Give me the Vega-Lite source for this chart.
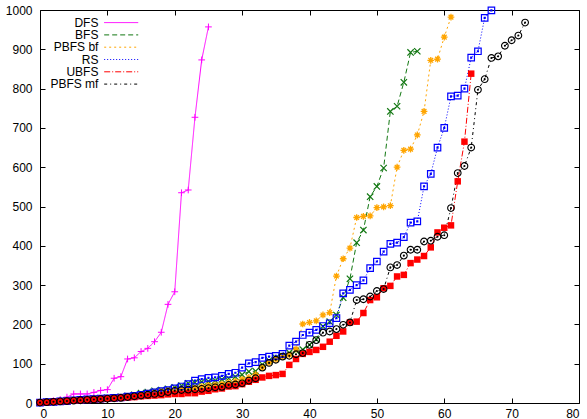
{
"$schema": "https://vega.github.io/schema/vega-lite/v6.json",
"width": 539, "height": 393,
"autosize": {"type": "none"},
"padding": {"left": 40, "top": 10, "right": 8, "bottom": 16},
"config": {
  "view": {"stroke": "#000", "strokeWidth": 1},
  "font": "Liberation Sans",
  "axis": {"grid": false, "domain": false, "tickColor": "#000", "tickSize": -5, "tickWidth": 1, "labelColor": "#000", "labelFontSize": 12, "labelFont": "Liberation Sans", "title": null, "format": "d"}
},
"datasets": {"d": [
{"m":"DFS","n":0,"t":2},{"m":"DFS","n":1,"t":4},{"m":"DFS","n":2,"t":6},{"m":"DFS","n":3,"t":9},{"m":"DFS","n":4,"t":15},{"m":"DFS","n":5,"t":23},{"m":"DFS","n":6,"t":23},{"m":"DFS","n":7,"t":23},{"m":"DFS","n":8,"t":27},{"m":"DFS","n":9,"t":32},{"m":"DFS","n":10,"t":34},{"m":"DFS","n":11,"t":63},{"m":"DFS","n":12,"t":67},{"m":"DFS","n":13,"t":112},{"m":"DFS","n":14,"t":115},{"m":"DFS","n":15,"t":131},{"m":"DFS","n":16,"t":139},{"m":"DFS","n":17,"t":156},{"m":"DFS","n":18,"t":180},{"m":"DFS","n":19,"t":251},{"m":"DFS","n":20,"t":283},{"m":"DFS","n":21,"t":535},{"m":"DFS","n":22,"t":542},{"m":"DFS","n":23,"t":727},{"m":"DFS","n":24,"t":873},{"m":"DFS","n":25,"t":957},
{"m":"BFS","n":0,"t":1},{"m":"BFS","n":1,"t":2},{"m":"BFS","n":2,"t":3},{"m":"BFS","n":3,"t":4},{"m":"BFS","n":4,"t":6},{"m":"BFS","n":5,"t":7},{"m":"BFS","n":6,"t":9},{"m":"BFS","n":7,"t":10},{"m":"BFS","n":8,"t":11},{"m":"BFS","n":9,"t":12},{"m":"BFS","n":10,"t":13},{"m":"BFS","n":11,"t":14},{"m":"BFS","n":12,"t":16},{"m":"BFS","n":13,"t":18},{"m":"BFS","n":14,"t":21},{"m":"BFS","n":15,"t":25},{"m":"BFS","n":16,"t":28},{"m":"BFS","n":17,"t":31},{"m":"BFS","n":18,"t":33},{"m":"BFS","n":19,"t":36},{"m":"BFS","n":20,"t":40},{"m":"BFS","n":21,"t":44},{"m":"BFS","n":22,"t":50},{"m":"BFS","n":23,"t":52},{"m":"BFS","n":24,"t":54},{"m":"BFS","n":25,"t":55},{"m":"BFS","n":26,"t":57},{"m":"BFS","n":27,"t":60},{"m":"BFS","n":28,"t":63},{"m":"BFS","n":29,"t":67},{"m":"BFS","n":30,"t":72},{"m":"BFS","n":31,"t":80},{"m":"BFS","n":32,"t":81},{"m":"BFS","n":33,"t":98},{"m":"BFS","n":34,"t":108},{"m":"BFS","n":35,"t":115},{"m":"BFS","n":36,"t":120},{"m":"BFS","n":37,"t":128},{"m":"BFS","n":38,"t":133},{"m":"BFS","n":39,"t":136},{"m":"BFS","n":40,"t":148},{"m":"BFS","n":41,"t":162},{"m":"BFS","n":42,"t":195},{"m":"BFS","n":43,"t":207},{"m":"BFS","n":44,"t":224},{"m":"BFS","n":45,"t":268},{"m":"BFS","n":46,"t":316},{"m":"BFS","n":47,"t":408},{"m":"BFS","n":48,"t":440},{"m":"BFS","n":49,"t":525},{"m":"BFS","n":50,"t":551},{"m":"BFS","n":51,"t":598},{"m":"BFS","n":52,"t":742},{"m":"BFS","n":53,"t":755},{"m":"BFS","n":54,"t":816},{"m":"BFS","n":55,"t":892},{"m":"BFS","n":56,"t":895},
{"m":"PBFS bf","n":0,"t":1},{"m":"PBFS bf","n":1,"t":2},{"m":"PBFS bf","n":2,"t":3},{"m":"PBFS bf","n":3,"t":4},{"m":"PBFS bf","n":4,"t":5},{"m":"PBFS bf","n":5,"t":6},{"m":"PBFS bf","n":6,"t":8},{"m":"PBFS bf","n":7,"t":9},{"m":"PBFS bf","n":8,"t":10},{"m":"PBFS bf","n":9,"t":11},{"m":"PBFS bf","n":10,"t":12},{"m":"PBFS bf","n":11,"t":13},{"m":"PBFS bf","n":12,"t":15},{"m":"PBFS bf","n":13,"t":17},{"m":"PBFS bf","n":14,"t":19},{"m":"PBFS bf","n":15,"t":22},{"m":"PBFS bf","n":16,"t":25},{"m":"PBFS bf","n":17,"t":28},{"m":"PBFS bf","n":18,"t":30},{"m":"PBFS bf","n":19,"t":32},{"m":"PBFS bf","n":20,"t":33},{"m":"PBFS bf","n":21,"t":35},{"m":"PBFS bf","n":22,"t":36},{"m":"PBFS bf","n":23,"t":38},{"m":"PBFS bf","n":24,"t":42},{"m":"PBFS bf","n":25,"t":45},{"m":"PBFS bf","n":26,"t":46},{"m":"PBFS bf","n":27,"t":48},{"m":"PBFS bf","n":28,"t":52},{"m":"PBFS bf","n":29,"t":55},{"m":"PBFS bf","n":30,"t":60},{"m":"PBFS bf","n":31,"t":65},{"m":"PBFS bf","n":32,"t":72},{"m":"PBFS bf","n":33,"t":90},{"m":"PBFS bf","n":34,"t":103},{"m":"PBFS bf","n":35,"t":111},{"m":"PBFS bf","n":36,"t":118},{"m":"PBFS bf","n":37,"t":122},{"m":"PBFS bf","n":38,"t":137},{"m":"PBFS bf","n":39,"t":201},{"m":"PBFS bf","n":40,"t":205},{"m":"PBFS bf","n":41,"t":209},{"m":"PBFS bf","n":42,"t":224},{"m":"PBFS bf","n":43,"t":230},{"m":"PBFS bf","n":44,"t":323},{"m":"PBFS bf","n":45,"t":367},{"m":"PBFS bf","n":46,"t":394},{"m":"PBFS bf","n":47,"t":472},{"m":"PBFS bf","n":48,"t":475},{"m":"PBFS bf","n":49,"t":476},{"m":"PBFS bf","n":50,"t":497},{"m":"PBFS bf","n":51,"t":499},{"m":"PBFS bf","n":52,"t":502},{"m":"PBFS bf","n":53,"t":600},{"m":"PBFS bf","n":54,"t":643},{"m":"PBFS bf","n":55,"t":646},{"m":"PBFS bf","n":56,"t":682},{"m":"PBFS bf","n":57,"t":742},{"m":"PBFS bf","n":58,"t":872},{"m":"PBFS bf","n":59,"t":875},{"m":"PBFS bf","n":60,"t":931},{"m":"PBFS bf","n":61,"t":982},
{"m":"RS","n":0,"t":1},{"m":"RS","n":1,"t":2},{"m":"RS","n":2,"t":3},{"m":"RS","n":3,"t":4},{"m":"RS","n":4,"t":5},{"m":"RS","n":5,"t":7},{"m":"RS","n":6,"t":8},{"m":"RS","n":7,"t":9},{"m":"RS","n":8,"t":10},{"m":"RS","n":9,"t":11},{"m":"RS","n":10,"t":12},{"m":"RS","n":11,"t":13},{"m":"RS","n":12,"t":14},{"m":"RS","n":13,"t":16},{"m":"RS","n":14,"t":18},{"m":"RS","n":15,"t":21},{"m":"RS","n":16,"t":24},{"m":"RS","n":17,"t":27},{"m":"RS","n":18,"t":30},{"m":"RS","n":19,"t":33},{"m":"RS","n":20,"t":37},{"m":"RS","n":21,"t":42},{"m":"RS","n":22,"t":48},{"m":"RS","n":23,"t":57},{"m":"RS","n":24,"t":61},{"m":"RS","n":25,"t":64},{"m":"RS","n":26,"t":65},{"m":"RS","n":27,"t":69},{"m":"RS","n":28,"t":74},{"m":"RS","n":29,"t":77},{"m":"RS","n":30,"t":90},{"m":"RS","n":31,"t":101},{"m":"RS","n":32,"t":104},{"m":"RS","n":33,"t":115},{"m":"RS","n":34,"t":118},{"m":"RS","n":35,"t":120},{"m":"RS","n":36,"t":125},{"m":"RS","n":37,"t":146},{"m":"RS","n":38,"t":156},{"m":"RS","n":39,"t":173},{"m":"RS","n":40,"t":179},{"m":"RS","n":41,"t":186},{"m":"RS","n":42,"t":196},{"m":"RS","n":43,"t":203},{"m":"RS","n":44,"t":216},{"m":"RS","n":45,"t":279},{"m":"RS","n":46,"t":288},{"m":"RS","n":47,"t":300},{"m":"RS","n":48,"t":312},{"m":"RS","n":49,"t":343},{"m":"RS","n":50,"t":360},{"m":"RS","n":51,"t":385},{"m":"RS","n":52,"t":405},{"m":"RS","n":53,"t":408},{"m":"RS","n":54,"t":422},{"m":"RS","n":55,"t":459},{"m":"RS","n":56,"t":462},{"m":"RS","n":57,"t":551},{"m":"RS","n":58,"t":583},{"m":"RS","n":59,"t":650},{"m":"RS","n":60,"t":700},{"m":"RS","n":61,"t":780},{"m":"RS","n":62,"t":782},{"m":"RS","n":63,"t":800},{"m":"RS","n":64,"t":879},{"m":"RS","n":65,"t":895},{"m":"RS","n":66,"t":980},{"m":"RS","n":67,"t":999},
{"m":"UBFS","n":0,"t":1},{"m":"UBFS","n":1,"t":2},{"m":"UBFS","n":2,"t":3},{"m":"UBFS","n":3,"t":4},{"m":"UBFS","n":4,"t":5},{"m":"UBFS","n":5,"t":6},{"m":"UBFS","n":6,"t":7},{"m":"UBFS","n":7,"t":8},{"m":"UBFS","n":8,"t":9},{"m":"UBFS","n":9,"t":10},{"m":"UBFS","n":10,"t":11},{"m":"UBFS","n":11,"t":12},{"m":"UBFS","n":12,"t":13},{"m":"UBFS","n":13,"t":14},{"m":"UBFS","n":14,"t":15},{"m":"UBFS","n":15,"t":17},{"m":"UBFS","n":16,"t":18},{"m":"UBFS","n":17,"t":19},{"m":"UBFS","n":18,"t":20},{"m":"UBFS","n":19,"t":22},{"m":"UBFS","n":20,"t":23},{"m":"UBFS","n":21,"t":23},{"m":"UBFS","n":22,"t":25},{"m":"UBFS","n":23,"t":25},{"m":"UBFS","n":24,"t":29},{"m":"UBFS","n":25,"t":31},{"m":"UBFS","n":26,"t":35},{"m":"UBFS","n":27,"t":37},{"m":"UBFS","n":28,"t":42},{"m":"UBFS","n":29,"t":43},{"m":"UBFS","n":30,"t":48},{"m":"UBFS","n":31,"t":54},{"m":"UBFS","n":32,"t":59},{"m":"UBFS","n":33,"t":65},{"m":"UBFS","n":34,"t":69},{"m":"UBFS","n":35,"t":71},{"m":"UBFS","n":36,"t":74},{"m":"UBFS","n":37,"t":97},{"m":"UBFS","n":38,"t":112},{"m":"UBFS","n":39,"t":125},{"m":"UBFS","n":40,"t":130},{"m":"UBFS","n":41,"t":135},{"m":"UBFS","n":42,"t":143},{"m":"UBFS","n":43,"t":156},{"m":"UBFS","n":44,"t":171},{"m":"UBFS","n":45,"t":182},{"m":"UBFS","n":46,"t":205},{"m":"UBFS","n":47,"t":207},{"m":"UBFS","n":48,"t":229},{"m":"UBFS","n":49,"t":262},{"m":"UBFS","n":50,"t":269},{"m":"UBFS","n":51,"t":292},{"m":"UBFS","n":52,"t":298},{"m":"UBFS","n":53,"t":322},{"m":"UBFS","n":54,"t":326},{"m":"UBFS","n":55,"t":356},{"m":"UBFS","n":56,"t":365},{"m":"UBFS","n":57,"t":374},{"m":"UBFS","n":58,"t":396},{"m":"UBFS","n":59,"t":434},{"m":"UBFS","n":60,"t":446},{"m":"UBFS","n":61,"t":452},{"m":"UBFS","n":62,"t":564},{"m":"UBFS","n":63,"t":665},{"m":"UBFS","n":64,"t":838},
{"m":"PBFS mf","n":0,"t":1},{"m":"PBFS mf","n":1,"t":2},{"m":"PBFS mf","n":2,"t":3},{"m":"PBFS mf","n":3,"t":4},{"m":"PBFS mf","n":4,"t":5},{"m":"PBFS mf","n":5,"t":6},{"m":"PBFS mf","n":6,"t":7},{"m":"PBFS mf","n":7,"t":8},{"m":"PBFS mf","n":8,"t":9},{"m":"PBFS mf","n":9,"t":10},{"m":"PBFS mf","n":10,"t":11},{"m":"PBFS mf","n":11,"t":12},{"m":"PBFS mf","n":12,"t":13},{"m":"PBFS mf","n":13,"t":15},{"m":"PBFS mf","n":14,"t":17},{"m":"PBFS mf","n":15,"t":19},{"m":"PBFS mf","n":16,"t":21},{"m":"PBFS mf","n":17,"t":23},{"m":"PBFS mf","n":18,"t":25},{"m":"PBFS mf","n":19,"t":28},{"m":"PBFS mf","n":20,"t":31},{"m":"PBFS mf","n":21,"t":33},{"m":"PBFS mf","n":22,"t":34},{"m":"PBFS mf","n":23,"t":35},{"m":"PBFS mf","n":24,"t":36},{"m":"PBFS mf","n":25,"t":38},{"m":"PBFS mf","n":26,"t":40},{"m":"PBFS mf","n":27,"t":41},{"m":"PBFS mf","n":28,"t":46},{"m":"PBFS mf","n":29,"t":47},{"m":"PBFS mf","n":30,"t":50},{"m":"PBFS mf","n":31,"t":57},{"m":"PBFS mf","n":32,"t":63},{"m":"PBFS mf","n":33,"t":90},{"m":"PBFS mf","n":34,"t":102},{"m":"PBFS mf","n":35,"t":110},{"m":"PBFS mf","n":36,"t":118},{"m":"PBFS mf","n":37,"t":120},{"m":"PBFS mf","n":38,"t":124},{"m":"PBFS mf","n":39,"t":127},{"m":"PBFS mf","n":40,"t":148},{"m":"PBFS mf","n":41,"t":160},{"m":"PBFS mf","n":42,"t":179},{"m":"PBFS mf","n":43,"t":182},{"m":"PBFS mf","n":44,"t":188},{"m":"PBFS mf","n":45,"t":199},{"m":"PBFS mf","n":46,"t":205},{"m":"PBFS mf","n":47,"t":262},{"m":"PBFS mf","n":48,"t":264},{"m":"PBFS mf","n":49,"t":271},{"m":"PBFS mf","n":50,"t":285},{"m":"PBFS mf","n":51,"t":290},{"m":"PBFS mf","n":52,"t":345},{"m":"PBFS mf","n":53,"t":351},{"m":"PBFS mf","n":54,"t":375},{"m":"PBFS mf","n":55,"t":390},{"m":"PBFS mf","n":56,"t":390},{"m":"PBFS mf","n":57,"t":411},{"m":"PBFS mf","n":58,"t":413},{"m":"PBFS mf","n":59,"t":423},{"m":"PBFS mf","n":60,"t":427},{"m":"PBFS mf","n":61,"t":496},{"m":"PBFS mf","n":62,"t":585},{"m":"PBFS mf","n":63,"t":603},{"m":"PBFS mf","n":64,"t":650},{"m":"PBFS mf","n":65,"t":797},{"m":"PBFS mf","n":66,"t":824},{"m":"PBFS mf","n":67,"t":878},{"m":"PBFS mf","n":68,"t":882},{"m":"PBFS mf","n":69,"t":909},{"m":"PBFS mf","n":70,"t":923},{"m":"PBFS mf","n":71,"t":935},{"m":"PBFS mf","n":72,"t":968}
]},
"data": {"name": "d"},
"layer": [
 {"mark": {"type": "line", "strokeWidth": 1, "clip": true},
  "encoding": {
   "x": {"field": "n", "type": "quantitative", "scale": {"domain": [0, 80], "nice": false}, "axis": {"orient": "bottom", "values": [0,10,20,30,40,50,60,70,80], "labelPadding": 10}},
   "y": {"field": "t", "type": "quantitative", "scale": {"domain": [0, 1000], "nice": false}, "axis": {"orient": "left", "values": [0,100,200,300,400,500,600,700,800,900,1000], "labelPadding": 13}},
   "color": {"field": "m", "type": "nominal", "scale": {"domain": ["DFS","BFS","PBFS bf","RS","UBFS","PBFS mf"], "range": ["#ff00ff","#117711","#ffa500","#0000ff","#ff0000","#000000"]},
     "legend": {"orient": "none", "legendX": 75.2, "legendY": 6.6, "title": null, "symbolType": "M-3.55,0H3.55", "symbolSize": 92, "symbolStrokeWidth": 1, "labelAlign": "right", "labelOffset": -28.8, "labelFontSize": 12, "labelFont": "Liberation Sans", "labelColor": "#000", "rowPadding": 0.3, "padding": 0}},
   "strokeDash": {"field": "m", "type": "nominal", "legend": null, "scale": {"domain": ["DFS","BFS","PBFS bf","RS","UBFS","PBFS mf"], "range": [[1,0],[5,3],[2,3],[1,2],[6,2,1,2],[3,3,1,3]]}},
   "order": {"field": "n", "type": "quantitative"}
  }},
 {"transform": [{"filter": "datum.m === 'DFS'"}],
  "mark": {"type": "point", "shape": "M-1,0H1M0,-1V1", "filled": false, "size": 45, "strokeWidth": 1, "color": "#ff00ff", "opacity": 1},
  "encoding": {"x": {"field": "n", "type": "quantitative", "axis": null}, "y": {"field": "t", "type": "quantitative", "axis": null}}},
 {"transform": [{"filter": "datum.m === 'BFS'"}],
  "mark": {"type": "point", "shape": "M-1,-1L1,1M1,-1L-1,1", "filled": false, "size": 40, "strokeWidth": 1.2, "color": "#117711", "opacity": 1},
  "encoding": {"x": {"field": "n", "type": "quantitative", "axis": null}, "y": {"field": "t", "type": "quantitative", "axis": null}}},
 {"transform": [{"filter": "datum.m === 'PBFS bf'"}],
  "mark": {"type": "point", "shape": "M-1,0H1M0,-1V1M-0.7,-0.7L0.7,0.7M0.7,-0.7L-0.7,0.7", "filled": false, "size": 45, "strokeWidth": 1.3, "color": "#ffa500", "opacity": 1},
  "encoding": {"x": {"field": "n", "type": "quantitative", "axis": null}, "y": {"field": "t", "type": "quantitative", "axis": null}}},
 {"transform": [{"filter": "datum.m === 'RS'"}],
  "mark": {"type": "point", "shape": "M-1,-1H1V1H-1ZM-0.15,-0.15H0.15V0.15H-0.15Z", "filled": false, "size": 42, "strokeWidth": 1.2, "color": "#0000ff", "opacity": 1},
  "encoding": {"x": {"field": "n", "type": "quantitative", "axis": null}, "y": {"field": "t", "type": "quantitative", "axis": null}}},
 {"transform": [{"filter": "datum.m === 'UBFS'"}],
  "mark": {"type": "square", "filled": true, "size": 42, "color": "#ff0000", "opacity": 1},
  "encoding": {"x": {"field": "n", "type": "quantitative", "axis": null}, "y": {"field": "t", "type": "quantitative", "axis": null}}},
 {"transform": [{"filter": "datum.m === 'PBFS mf'"}],
  "mark": {"type": "point", "shape": "M1,0A1,1 0 1,1 -1,0A1,1 0 1,1 1,0ZM0.15,0A0.15,0.15 0 1,1 -0.15,0A0.15,0.15 0 1,1 0.15,0Z", "filled": false, "size": 45, "strokeWidth": 1.1, "color": "#000000", "opacity": 1},
  "encoding": {"x": {"field": "n", "type": "quantitative", "axis": null}, "y": {"field": "t", "type": "quantitative", "axis": null}}},
 {"mark": {"type": "point", "opacity": 0},
  "encoding": {
   "x": {"field": "n", "type": "quantitative", "axis": {"orient": "top", "labels": false, "values": [0,10,20,30,40,50,60,70,80]}},
   "y": {"field": "t", "type": "quantitative", "axis": {"orient": "right", "labels": false, "values": [0,100,200,300,400,500,600,700,800,900,1000]}}
  }}
],
"resolve": {"axis": {"x": "independent", "y": "independent"}}
}
